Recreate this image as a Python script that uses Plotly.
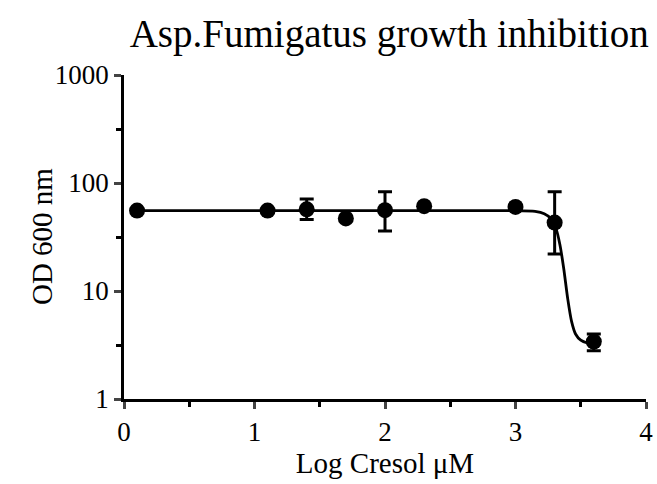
import plotly.graph_objects as go

# Data (log concentration, OD600)
log_conc = [0.1, 1.1, 1.4, 1.7, 2.0, 2.3, 3.0, 3.3, 3.6]
od600 = [55.5, 55.5, 57, 47, 56, 61, 60, 43, 3.4]
err_plus = [0, 0, 14, 0, 27, 0, 0, 40, 0.6]
err_minus = [0, 0, 11, 0, 20, 0, 0, 21, 0.6]

# Fitted curve
curve_x = [0.1, 1.0, 2.0, 3.0, 3.15, 3.22, 3.27, 3.31, 3.34, 3.37, 3.40, 3.43, 3.46, 3.50, 3.55, 3.6]
curve_y = [55.5, 55.5, 55.5, 55.4, 54.5, 52, 47, 38, 27, 16, 8.5, 5.2, 4.0, 3.5, 3.3, 3.25]

x_ticks = [0, 1, 2, 3, 4]
y_ticks = [1, 10, 100, 1000]
y_minor = [3.16, 31.6, 316]
x_minor = [0.5, 1.5, 2.5, 3.5]

font = "Liberation Serif, Times New Roman, serif"

fig = go.Figure()
fig.add_trace(go.Scatter(x=curve_x, y=curve_y, mode="lines",
                         line=dict(color="black", width=2.8, shape="spline", smoothing=0.6),
                         showlegend=False, hoverinfo="skip", cliponaxis=False))
fig.add_trace(go.Scatter(x=log_conc, y=od600, mode="markers",
                         marker=dict(color="black", size=16),
                         error_y=dict(type="data", symmetric=False, array=err_plus,
                                      arrayminus=err_minus, color="black", thickness=3, width=7),
                         showlegend=False, cliponaxis=False))

fig.add_annotation(text="OD 600 nm", xref="paper", yref="paper", x=-0.157, y=0.5,
                   xanchor="center", yanchor="middle", textangle=-90, showarrow=False,
                   font=dict(size=29, family=font))

fig.update_layout(
    width=657, height=484,
    margin=dict(l=124, r=11, t=75, b=85, autoexpand=False),
    paper_bgcolor="white", plot_bgcolor="white",
    font=dict(family=font, color="black", size=27),
    title=dict(text="Asp.Fumigatus growth inhibition", x=0.508, xanchor="center",
               xref="paper", yref="container", y=0.932, yanchor="middle",
               font=dict(size=39, family=font), automargin=False),
    xaxis=dict(range=[0, 4], tickvals=x_ticks, ticks="outside", ticklen=7, tickwidth=2.8,
               showline=True, linewidth=2.8, linecolor="black", showgrid=False, zeroline=False,
               automargin=False, tickfont=dict(size=27),
               title=dict(text="Log Cresol μM", font=dict(size=29), standoff=3),
               minor=dict(tickvals=x_minor, ticks="outside", ticklen=5, tickwidth=2.8, tickcolor="black")),
    yaxis=dict(type="log", range=[0, 3], tickvals=y_ticks, ticktext=[str(v) for v in y_ticks],
               ticks="outside", ticklen=7, tickwidth=2.8,
               showline=True, linewidth=2.8, linecolor="black", showgrid=False, zeroline=False,
               automargin=False, tickfont=dict(size=27),
               minor=dict(tickvals=y_minor, ticks="outside", ticklen=5, tickwidth=2.8, tickcolor="black")),
)

fig.write_html("out.html", config={"displayModeBar": False},
               post_script="document.body.style.margin='0';")
